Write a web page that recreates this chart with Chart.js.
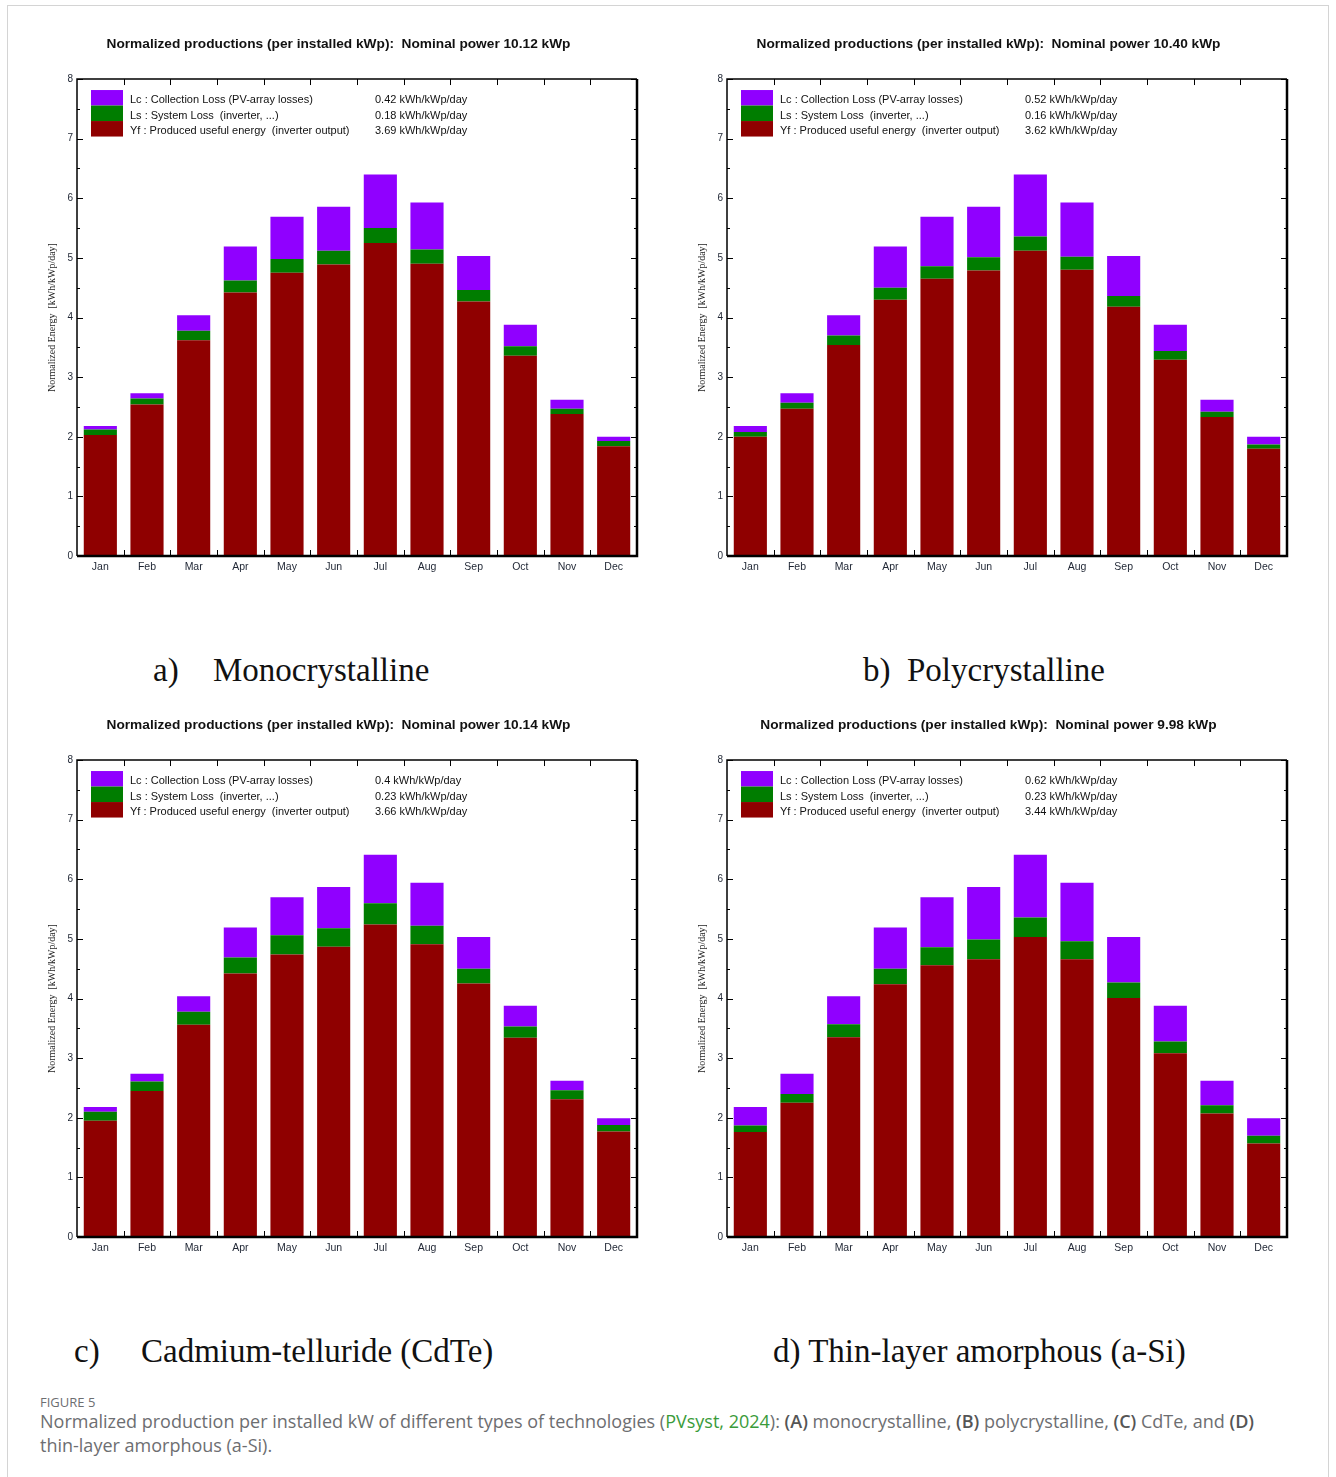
<!DOCTYPE html>
<html>
<head>
<meta charset="utf-8">
<script src="https://cdn.jsdelivr.net/npm/chart.js@4/dist/chart.umd.min.js"></script>
<style>
  html, body { margin: 0; padding: 0; background: #fff; }
  #page { position: relative; width: 1336px; height: 1477px; overflow: hidden; }
  #outline { position: absolute; left: 7px; top: 5px; width: 1322px; height: 1500px; border: 1px solid #d4d4d4; box-sizing: border-box; }
  .panel { position: absolute; width: 615px; height: 560px; }
  .sub { position: absolute; font-family: "Liberation Serif", "DejaVu Serif", serif; font-size: 33px; line-height: 40px; color: #111; white-space: nowrap; }
  .fig { position: absolute; left: 40px; top: 1393px; font-family: "Open Sans", sans-serif; font-size: 13px; color: #6d6e71; }
  .cap { position: absolute; left: 40px; top: 1409px; width: 1240px; font-family: "Open Sans", sans-serif; font-size: 18px; line-height: 24px; color: #6d6e71; }
  .cap b { color: #555; font-weight: 600; }
  .cap .src { color: #3a9b3a; }
</style>
</head>
<body>
<div id="page">
  <div id="outline"></div>
  <div class="panel" style="left:40px;top:25px"><canvas id="chartA" width="615" height="560"></canvas></div>
  <div class="panel" style="left:690px;top:25px"><canvas id="chartB" width="615" height="560"></canvas></div>
  <div class="panel" style="left:40px;top:706px"><canvas id="chartC" width="615" height="560"></canvas></div>
  <div class="panel" style="left:690px;top:706px"><canvas id="chartD" width="615" height="560"></canvas></div>

  <div class="sub" style="left:153px;top:650px">a)</div>
  <div class="sub" style="left:213px;top:650px">Monocrystalline</div>
  <div class="sub" style="left:863px;top:650px">b)</div>
  <div class="sub" style="left:907px;top:650px">Polycrystalline</div>
  <div class="sub" style="left:74px;top:1331px">c)</div>
  <div class="sub" style="left:141px;top:1331px">Cadmium-telluride (CdTe)</div>
  <div class="sub" style="left:773px;top:1331px">d) Thin-layer amorphous (a-Si)</div>

  <div class="fig">FIGURE 5</div>
  <div class="cap">Normalized production per installed kW of different types of technologies (<span class="src">PVsyst, 2024</span>): <b>(A)</b> monocrystalline, <b>(B)</b> polycrystalline, <b>(C)</b> CdTe, and <b>(D)</b> thin-layer amorphous (a-Si).</div>
</div>

<script>
// month labels
var months = ['Jan', 'Feb', 'Mar', 'Apr', 'May', 'Jun', 'Jul', 'Aug', 'Sep', 'Oct', 'Nov', 'Dec'];
var seriesLabels = ['Yf : Produced useful energy  (inverter output)', 'Ls : System Loss  (inverter, ...)', 'Lc : Collection Loss (PV-array losses)'];
var yTicks = [0, 1, 2, 3, 4, 5, 6, 7, 8];

// a) monocrystalline, 10.12 kWp
var yfMono = [2.03, 2.54, 3.62, 4.42, 4.75, 4.89, 5.25, 4.90, 4.27, 3.36, 2.38, 1.84];
var lsMono = [0.09, 0.10, 0.16, 0.20, 0.23, 0.23, 0.25, 0.24, 0.19, 0.16, 0.09, 0.09];
var lcMono = [0.06, 0.09, 0.26, 0.57, 0.71, 0.74, 0.90, 0.79, 0.57, 0.36, 0.15, 0.07];
var avgMono = ['3.69', '0.18', '0.42'];

// b) polycrystalline, 10.40 kWp
var yfPoly = [2.00, 2.47, 3.54, 4.30, 4.65, 4.79, 5.12, 4.80, 4.18, 3.29, 2.33, 1.80];
var lsPoly = [0.08, 0.10, 0.16, 0.20, 0.21, 0.22, 0.24, 0.22, 0.18, 0.15, 0.09, 0.07];
var lcPoly = [0.10, 0.16, 0.34, 0.69, 0.83, 0.85, 1.04, 0.91, 0.67, 0.44, 0.20, 0.13];
var avgPoly = ['3.62', '0.16', '0.52'];

// c) CdTe, 10.14 kWp
var yfCdte = [1.95, 2.45, 3.56, 4.42, 4.74, 4.87, 5.24, 4.91, 4.25, 3.34, 2.31, 1.77];
var lsCdte = [0.15, 0.16, 0.22, 0.27, 0.32, 0.31, 0.36, 0.31, 0.25, 0.19, 0.15, 0.11];
var lcCdte = [0.08, 0.13, 0.26, 0.50, 0.64, 0.69, 0.81, 0.72, 0.53, 0.35, 0.16, 0.11];
var avgCdte = ['3.66', '0.23', '0.4'];

// d) a-Si, 9.98 kWp
var yfAsi = [1.76, 2.25, 3.35, 4.24, 4.56, 4.66, 5.03, 4.66, 4.01, 3.08, 2.07, 1.57];
var lsAsi = [0.11, 0.15, 0.22, 0.26, 0.30, 0.33, 0.33, 0.30, 0.26, 0.20, 0.14, 0.13];
var lcAsi = [0.31, 0.34, 0.47, 0.69, 0.84, 0.88, 1.05, 0.98, 0.76, 0.60, 0.41, 0.29];
var avgAsi = ['3.44', '0.23', '0.62'];

var colors = ['#8f0000', '#007d00', '#9000ff'];

// legend box inside the plot, like PVsyst does it
var pvLegend = {
    id: 'pvLegend',
    afterDraw: function(chart) {
        var ctx = chart.ctx;
        var a = chart.chartArea;
        var vals = chart.options.plugins.pvLegend.values;
        ctx.save();
        ctx.font = '11px "Liberation Sans", Arial, sans-serif';
        ctx.textBaseline = 'middle';
        var order = [2, 1, 0];
        for (var r = 0; r < order.length; r++) {
            var i = order[r];
            var top = a.top + 11 + r * 15.5;
            ctx.fillStyle = colors[i];
            ctx.fillRect(a.left + 14, top, 32, 15.5);
            ctx.fillStyle = '#111';
            ctx.fillText(chart.data.datasets[i].label, a.left + 53, top + 10);
            ctx.fillText(vals[i] + ' kWh/kWp/day', a.left + 298, top + 10);
        }
        ctx.restore();
    }
};

// box frame and the inward tick marks
var pvFrame = {
    id: 'pvFrame',
    afterDatasetsDraw: function(chart) {
        var ctx = chart.ctx;
        var a = chart.chartArea;
        var x = chart.scales.x, y = chart.scales.y;
        ctx.save();
        ctx.strokeStyle = '#000';
        ctx.lineWidth = 1;
        ctx.beginPath();
        for (var v = y.min; v <= y.max; v += 0.5) {
            var py = Math.round(y.getPixelForValue(v)) + 0.5;
            var len = (v % 1 === 0) ? 6 : 3;
            ctx.moveTo(a.left, py); ctx.lineTo(a.left + len, py);
            ctx.moveTo(a.right - len, py); ctx.lineTo(a.right, py);
        }
        for (var i = 1; i < months.length; i++) {
            var px = Math.round((x.getPixelForValue(i - 1) + x.getPixelForValue(i)) / 2) + 0.5;
            ctx.moveTo(px, a.bottom); ctx.lineTo(px, a.bottom - 6);
            ctx.moveTo(px, a.top); ctx.lineTo(px, a.top + 6);
        }
        ctx.stroke();
        ctx.lineWidth = 1.5;
        ctx.beginPath();
        ctx.moveTo(a.left, a.bottom); ctx.lineTo(a.left, a.top); ctx.lineTo(a.right, a.top);
        ctx.stroke();
        ctx.lineWidth = 2.5;
        ctx.beginPath();
        ctx.moveTo(a.right, a.top); ctx.lineTo(a.right, a.bottom); ctx.lineTo(a.left, a.bottom);
        ctx.stroke();
        ctx.restore();
    }
};

function makeChart(id, power, yf, ls, lc, avg) {
    var data = [yf, ls, lc];
    var datasets = [];
    for (var i = 0; i < 3; i++) {
        datasets.push({
            label: seriesLabels[i],
            data: data[i],
            backgroundColor: colors[i],
            borderWidth: 0,
            barPercentage: 0.71,
            categoryPercentage: 1.0
        });
    }
    return new Chart(document.getElementById(id), {
        type: 'bar',
        data: { labels: months, datasets: datasets },
        options: {
            responsive: false,
            animation: false,
            layout: { padding: { top: 0, right: 18, bottom: 0, left: 0 } },
            plugins: {
                legend: { display: false },
                tooltip: { enabled: false },
                title: {
                    display: true,
                    text: 'Normalized productions (per installed kWp):  Nominal power ' + power + ' kWp',
                    color: '#111',
                    font: { family: '"Liberation Sans", Arial, sans-serif', size: 13.7, weight: 'bold' },
                    padding: { top: 11, bottom: 26.6 }
                },
                pvLegend: { values: avg }
            },
            scales: {
                x: {
                    stacked: true,
                    grid: { display: false, drawTicks: false },
                    border: { display: false },
                    ticks: { color: '#1e2533', padding: 5, font: { family: '"Liberation Sans", Arial, sans-serif', size: 10.5 } },
                    afterFit: function(s) { s.height = 29; }
                },
                y: {
                    stacked: true,
                    min: 0,
                    max: 8,
                    afterBuildTicks: function(s) { s.ticks = yTicks.map(function(v) { return { value: v }; }); },
                    grid: { display: false, drawTicks: false },
                    border: { display: false },
                    ticks: { color: '#1e2533', padding: 4, font: { family: '"Liberation Sans", Arial, sans-serif', size: 10 } },
                    title: {
                        display: true,
                        text: 'Normalized Energy  [kWh/kWp/day]',
                        color: '#222',
                        font: { family: '"Liberation Serif", serif', size: 10 },
                        padding: { top: 6, bottom: 0 }
                    },
                    afterFit: function(s) { s.width = 37; }
                }
            }
        },
        plugins: [pvLegend, pvFrame]
    });
}

makeChart('chartA', '10.12', yfMono, lsMono, lcMono, avgMono);
makeChart('chartB', '10.40', yfPoly, lsPoly, lcPoly, avgPoly);
makeChart('chartC', '10.14', yfCdte, lsCdte, lcCdte, avgCdte);
makeChart('chartD', '9.98', yfAsi, lsAsi, lcAsi, avgAsi);
</script>
</body>
</html>
